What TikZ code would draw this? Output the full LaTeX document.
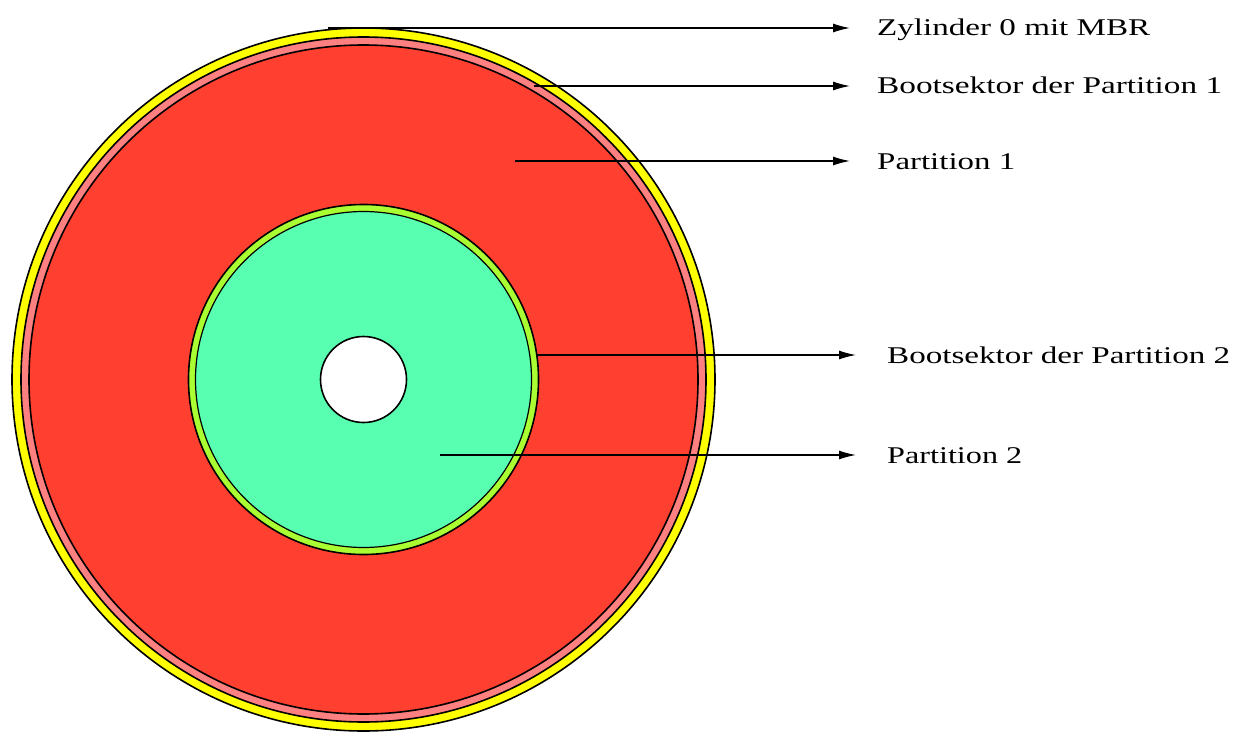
\documentclass[tikz,border=0pt]{standalone}
\usepackage{fontspec}
\setmainfont{Liberation Serif}
\usetikzlibrary{arrows.meta}
\definecolor{diskyellow}{RGB}{255,255,0}
\definecolor{diskpink}{RGB}{255,128,128}
\definecolor{diskred}{RGB}{255,64,48}
\definecolor{disklime}{RGB}{170,255,50}
\definecolor{diskmint}{RGB}{88,255,176}
\tikzset{
  ring/.style={draw=black,line width=1.6pt},
  lbl/.style={anchor=base west,inner sep=0pt,font=\fontsize{24}{28}\selectfont},
  pointer/.style={draw=black,line width=1.3pt,-{Latex[length=17pt,width=9pt]},shorten >=27pt}
}
\begin{document}
\begin{tikzpicture}[x=1pt,y=-1pt]
\useasboundingbox (0,0) rectangle (1237,733);
\coordinate (ctr) at (363.5,379.5);
% disk rings
\path[ring,fill=diskyellow] (ctr) circle[radius=351.5];
\path[ring,fill=diskpink] (ctr) circle[radius=342.5];
\path[ring,fill=diskred] (ctr) circle[radius=334.5];
\path[ring,fill=disklime] (ctr) circle[radius=175];
\path[ring,line width=1.2pt,fill=diskmint] (ctr) circle[radius=168];
\path[ring,fill=white] (ctr) circle[radius=43];
% start points
\coordinate (s1) at (328,28);
\coordinate (s2) at (534,86);
\coordinate (s3) at (515,161);
\coordinate (s4) at (537,355);
\coordinate (s5) at (440,455);
% labels
\node[lbl] (t1) at (877,36) {\resizebox{273pt}{\height}{Zylinder 0 mit MBR}};
\node[lbl] (t2) at (877,94) {\resizebox{345pt}{\height}{Bootsektor der Partition 1}};
\node[lbl] (t3) at (877,169) {\resizebox{138pt}{\height}{Partition 1}};
\node[lbl] (t4) at (887,363) {\resizebox{343pt}{\height}{Bootsektor der Partition 2}};
\node[lbl] (t5) at (887,463) {\resizebox{135pt}{\height}{Partition 2}};
% pointers
\draw[pointer] (s1) -- (s1 -| t1.west);
\draw[pointer] (s2) -- (s2 -| t2.west);
\draw[pointer] (s3) -- (s3 -| t3.west);
\draw[pointer,shorten >=31pt] (s4) -- (s4 -| t4.west);
\draw[pointer,shorten >=31pt] (s5) -- (s5 -| t5.west);
\end{tikzpicture}
\end{document}
